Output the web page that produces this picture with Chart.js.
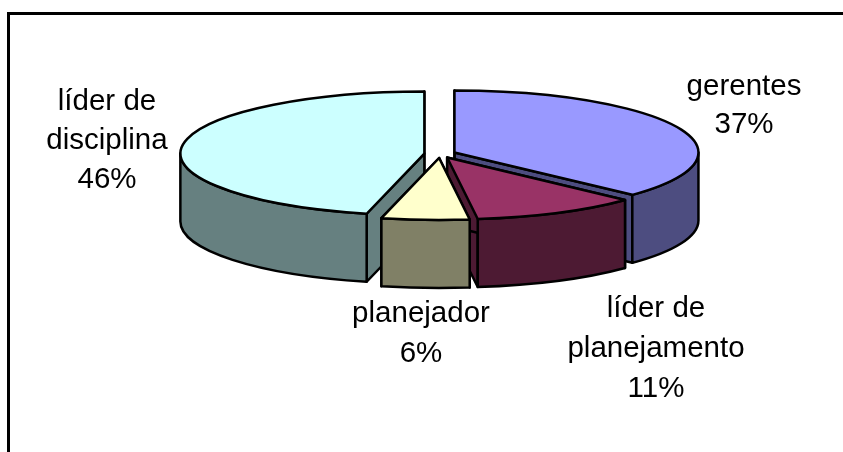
<!DOCTYPE html>
<html>
<head>
<meta charset="utf-8">
<script src="https://cdn.jsdelivr.net/npm/chart.js@4"></script>
<style>
html,body{margin:0;padding:0;background:#fff;overflow:hidden}
canvas{display:block}
</style>
</head>
<body>
<canvas id="c" width="843" height="452"></canvas>
<script>
const categories = [["gerentes"], ["líder de", "planejamento"], ["planejador"], ["líder de", "disciplina"]];
const shares = [37, 11, 5.8, 46.2];
const topColors = ["#9999FF", "#993366", "#FFFFCC", "#CCFFFF"];
const sideColors = ["#4D4D80", "#4D1A33", "#808066", "#668080"];
const paintOrder = [3, 0, 1, 2];
const labelAnchors = [[744, 95, 38], [656, 317, 40], [421, 322, 40], [107, 110, 39]];

const TILT = 0.254, DEPTH = 68, LINE = 2.5, EXPLODE = 15.75;

const pie3d = {
  id: "pie3d",
  beforeDatasetDraw(chart, args) {
    const ctx = chart.ctx, els = args.meta.data;
    ctx.save();
    ctx.lineWidth = LINE; ctx.strokeStyle = "#000"; ctx.lineJoin = "round";
    paintOrder.forEach(i => {
      const el = els[i], R = el.outerRadius;
      const mid = (el.startAngle + el.endAngle) / 2;
      const cx = el.x + Math.cos(mid) * EXPLODE, cy = el.y + Math.sin(mid) * EXPLODE * TILT;
      const rim = a => [cx + Math.cos(a) * R, cy + Math.sin(a) * R * TILT];
      ctx.fillStyle = sideColors[i];
      // radial cut faces
      [el.endAngle, el.startAngle].forEach(a => {
        const p = rim(a);
        ctx.beginPath();
        ctx.moveTo(cx, cy); ctx.lineTo(p[0], p[1]);
        ctx.lineTo(p[0], p[1] + DEPTH); ctx.lineTo(cx, cy + DEPTH);
        ctx.closePath(); ctx.fill(); ctx.stroke();
      });
      // outer wall, front half only
      const a0 = Math.max(el.startAngle, 0), a1 = Math.min(el.endAngle, Math.PI);
      if (a1 > a0) {
        ctx.beginPath();
        ctx.ellipse(cx, cy, R, R * TILT, 0, a0, a1);
        ctx.ellipse(cx, cy + DEPTH, R, R * TILT, 0, a1, a0, true);
        ctx.closePath(); ctx.fill(); ctx.stroke();
      }
      // top face: filled by the arc element itself under an explode + tilt transform
      ctx.save();
      ctx.translate(cx, cy); ctx.scale(1, TILT); ctx.translate(-el.x, -el.y);
      el.draw(ctx);
      ctx.restore();
      ctx.beginPath();
      ctx.moveTo(cx, cy);
      ctx.ellipse(cx, cy, R, R * TILT, 0, el.startAngle, el.endAngle);
      ctx.closePath(); ctx.stroke();
    });
    ctx.restore();
    return false;
  },
  afterDraw(chart) {
    const ctx = chart.ctx;
    ctx.save();
    // frame
    ctx.fillStyle = "#000";
    ctx.fillRect(7, 12, 836, 3);
    ctx.fillRect(7, 12, 3, 440);
    // labels
    const total = shares.reduce((s, v) => s + v, 0);
    ctx.font = '29.5px "Liberation Sans", Arial, sans-serif';
    ctx.textAlign = "center"; ctx.textBaseline = "alphabetic";
    categories.forEach((lines, i) => {
      const [x, y, lh] = labelAnchors[i];
      const text = lines.concat(Math.round(shares[i] / total * 100) + "%");
      text.forEach((t, k) => ctx.fillText(t, x, y + k * lh));
    });
    ctx.restore();
  }
};

new Chart(document.getElementById("c"), {
  type: "pie",
  data: {
    labels: categories,
    datasets: [{ data: shares, backgroundColor: topColors, borderWidth: 0 }]
  },
  options: {
    responsive: false,
    animation: false,
    radius: 244,
    layout: { padding: { left: 37, right: 0, top: 0, bottom: 144 } },
    plugins: { legend: { display: false }, tooltip: { enabled: false } }
  },
  plugins: [pie3d]
});
</script>
</body>
</html>
